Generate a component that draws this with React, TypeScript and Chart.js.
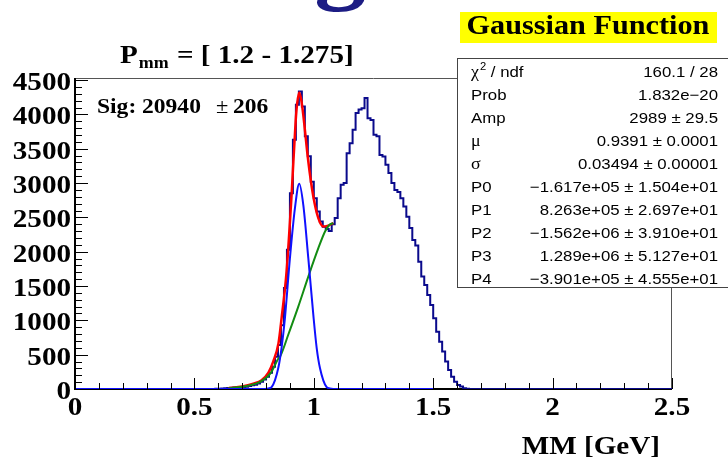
import React, { useEffect, useRef } from "react";
import { Chart, registerables } from "chart.js";

Chart.register(...registerables);

// ---------------- axis definitions ----------------
const xRange = [0, 2.5];
const yRange = [0, 4530];
const xTickValues = [0, 0.5, 1, 1.5, 2, 2.5];
const xTickLabels = ["0", "0.5", "1", "1.5", "2", "2.5"];
const yTickValues = [0, 500, 1000, 1500, 2000, 2500, 3000, 3500, 4000, 4500];
const yTickLabels = ["0", "500", "1000", "1500", "2000", "2500", "3000", "3500", "4000", "4500"];
const xMinorStep = 0.1;
const yMinorStep = 100;

// ---------------- histogram (bin width 0.0125 GeV) ----------------
const histBinWidth = 0.0125;
const histFirstBin = 0.5875;
const histCounts = [
  3, 5, 6, 10, 14, 20, 22, 25, 27, 30, 34, 42, 55, 62, 80, 105, 140, 180, 235, 325,
  470, 640, 930, 1470, 2030, 2850, 3630, 4140, 4335, 4115, 3680, 3390, 3020, 2780, 2585, 2440,
  2365, 2330, 2300, 2400, 2490, 2780, 2975, 3000, 3435, 3580, 3775, 4020, 4070, 4090, 4240,
  3945, 3920, 3705, 3680, 3410, 3385, 3265, 3145, 3000, 2900, 2870, 2780, 2660, 2510, 2345,
  2170, 2090, 1855, 1640, 1515, 1370, 1225, 1030, 835, 690, 545, 400, 275, 180, 105, 60, 35,
  12, 5,
];

// ---------------- fit curves ----------------
const fitX = [0.642, 0.7, 0.75, 0.78, 0.81, 0.83, 0.852, 0.865, 0.886, 0.907, 0.924, 0.93, 0.939, 0.948, 0.956, 0.977, 0.998, 1.019, 1.04, 1.06, 1.082];
const fitY = [12, 38, 80, 125, 240, 400, 665, 1030, 1711, 2830, 3900, 4150, 4320, 4200, 3990, 3314, 2804, 2488, 2366, 2380, 2416];

const bgX = [0.642, 0.68, 0.72, 0.777, 0.82, 0.851, 0.86, 0.893, 0.935, 0.977, 1.019, 1.047, 1.065, 1.082];
const bgY = [10, 25, 45, 107, 235, 440, 480, 790, 1200, 1637, 2051, 2294, 2390, 2416];

const gaussX = [0, 0.78, 0.81, 0.824, 0.851, 0.865, 0.879, 0.9, 0.921, 0.939, 0.956, 0.977, 0.998, 1.012, 1.026, 1.053, 1.067, 1.1, 1.5];
const gaussY = [0, 0, 8, 30, 302, 600, 1030, 1905, 2634, 2990, 2683, 1905, 1079, 600, 302, 30, 8, 0, 0];

// ---------------- texts ----------------
const titleMain = "P";
const titleSub = "mm";
const titleRest = " = [ 1.2 - 1.275]";
const xAxisTitle = "MM [GeV]";
const headerText = "Gaussian Function";
const sigLabel = "Sig: 20940";
const sigErr = "206";
const statsLabels = ["χ2 / ndf", "Prob", "Amp", "μ", "σ", "P0", "P1", "P2", "P3", "P4"];
const statsValues = [
  "160.1 / 28",
  "1.832e\u221220",
  "2989 ± 29.5",
  "0.9391 ± 0.0001",
  "0.03494 ± 0.00001",
  "\u22121.617e+05 ± 1.504e+01",
  "8.263e+05 ± 2.697e+01",
  "\u22121.562e+06 ± 3.910e+01",
  "1.289e+06 ± 5.127e+01",
  "\u22123.901e+05 ± 4.555e+01",
];

const SERIF = '"Liberation Serif", "Times New Roman", serif';
const SANS = '"Liberation Sans", Arial, sans-serif';
const SX = 1.12;

function drawText(
  ctx: CanvasRenderingContext2D,
  s: string,
  x: number,
  y: number,
  font: string,
  align: "left" | "right" | "center" = "left",
  color = "#000",
  baseline: CanvasTextBaseline = "alphabetic"
) {
  ctx.save();
  ctx.font = font;
  ctx.fillStyle = color;
  ctx.textBaseline = baseline;
  ctx.textAlign = "left";
  const w = ctx.measureText(s).width * SX;
  const x0 = align === "left" ? x : align === "right" ? x - w : x - w / 2;
  ctx.translate(x0, y);
  ctx.scale(SX, 1);
  ctx.fillText(s, 0, 0);
  ctx.restore();
  return w;
}

const framePlugin = {
  id: "rootFrame",
  beforeDatasetsDraw(chart: any) {
    const { ctx, chartArea: a } = chart;
    ctx.save();
    ctx.strokeStyle = "#555";
    ctx.lineWidth = 1;
    ctx.beginPath();
    ctx.moveTo(a.left, a.top + 0.5);
    ctx.lineTo(a.right, a.top + 0.5);
    ctx.moveTo(a.right - 0.5, a.top);
    ctx.lineTo(a.right - 0.5, a.bottom);
    ctx.stroke();
    ctx.strokeStyle = "#000";
    ctx.lineWidth = 2;
    ctx.beginPath();
    ctx.moveTo(a.left, a.top);
    ctx.lineTo(a.left, a.bottom);
    ctx.lineTo(a.right, a.bottom);
    ctx.stroke();
    ctx.restore();
  },
  afterDatasetsDraw(chart: any) {
    const { ctx, chartArea: a, scales } = chart;
    const xs = scales.x;
    const ys = scales.y;
    ctx.save();
    ctx.strokeStyle = "#000";
    ctx.lineWidth = 1;
    ctx.beginPath();
    // y ticks (inward)
    for (let v = yRange[0]; v <= yRange[1] + 1e-6; v += yMinorStep) {
      const major = yTickValues.some((t) => Math.abs(t - v) < 1e-6);
      const py = Math.round(ys.getPixelForValue(v)) + 0.5;
      ctx.moveTo(a.left, py);
      ctx.lineTo(a.left + (major ? 13 : 7), py);
    }
    // x ticks (inward)
    for (let i = 0; i * xMinorStep <= xRange[1] + 1e-6; i++) {
      const v = i * xMinorStep;
      const major = xTickValues.some((t) => Math.abs(t - v) < 1e-6);
      const px = Math.round(xs.getPixelForValue(v)) + 0.5;
      ctx.moveTo(px, a.bottom);
      ctx.lineTo(px, a.bottom - (major ? 11 : 6));
    }
    ctx.stroke();
    ctx.restore();
  },
  afterDraw(chart: any) {
    const { ctx, chartArea: a, scales } = chart;
    const xs = scales.x;
    const ys = scales.y;
    const tickFont = `bold 26px ${SERIF}`;
    yTickValues.forEach((v, i) => {
      drawText(ctx, yTickLabels[i], a.left - 4, ys.getPixelForValue(v) + 10, tickFont, "right");
    });
    xTickValues.forEach((v, i) => {
      drawText(ctx, xTickLabels[i], xs.getPixelForValue(v), a.bottom + 26, tickFont, "center");
    });
    drawText(ctx, xAxisTitle, 660, 454, `bold 26px ${SERIF}`, "right");

    // big partial "g" from the slide title above
    drawText(ctx, "g", 340, -7, `bold 92px ${SERIF}`, "center", "#1c1c84");

    // title
    let tx = 120;
    tx += drawText(ctx, titleMain, tx, 63, `bold 26px ${SERIF}`);
    tx += drawText(ctx, titleSub, tx + 1, 68, `bold 16px ${SERIF}`) + 2;
    drawText(ctx, titleRest, tx, 63, `bold 26px ${SERIF}`);

    // Sig annotation
    drawText(ctx, sigLabel, 97, 113, `bold 21px ${SERIF}`);
    drawText(ctx, "±", 216, 113, `20px ${SERIF}`);
    drawText(ctx, sigErr, 233, 113, `bold 21px ${SERIF}`);

    // yellow header
    ctx.save();
    ctx.fillStyle = "#ffff00";
    ctx.fillRect(460, 12, 257, 31);
    ctx.restore();
    drawText(ctx, headerText, 588, 34, `bold 27px ${SERIF}`, "center");

    // stats box
    const bx = 457, by = 58, bw = 290, bh = 229;
    ctx.save();
    ctx.fillStyle = "#fff";
    ctx.fillRect(bx, by, bw, bh);
    ctx.strokeStyle = "#444";
    ctx.lineWidth = 1;
    ctx.strokeRect(bx + 0.5, by + 0.5, bw, bh);
    ctx.restore();
    const sFont = `15px ${SANS}`;
    statsLabels.forEach((lab, i) => {
      const yb = 77 + i * 23;
      if (i === 0) {
        let lx = 471;
        lx += drawText(ctx, "χ", lx, yb, `16px ${SERIF}`);
        lx += drawText(ctx, "2", lx + 1, yb - 7, `10px ${SANS}`) + 1;
        drawText(ctx, " / ndf", lx, yb, sFont);
      } else if (lab === "μ" || lab === "σ") {
        drawText(ctx, lab, 471, yb, `16px ${SERIF}`);
      } else {
        drawText(ctx, lab, 471, yb, sFont);
      }
      drawText(ctx, statsValues[i], 718, yb, sFont, "right");
    });
  },
};

export default function App() {
  const ref = useRef<HTMLCanvasElement | null>(null);
  useEffect(() => {
    document.body.style.margin = "0";
    document.body.style.overflow = "hidden";
    const canvas = ref.current!;
    const histPoints: { x: number; y: number }[] = [{ x: xRange[0], y: 0 }];
    histCounts.forEach((c, i) => histPoints.push({ x: histFirstBin + i * histBinWidth, y: c }));
    histPoints.push({ x: histFirstBin + histCounts.length * histBinWidth, y: 0 });
    histPoints.push({ x: xRange[1], y: 0 });
    const toPts = (xs: number[], ys: number[]) => xs.map((x, i) => ({ x, y: ys[i] }));

    const chart = new Chart(canvas, {
      type: "line",
      data: {
        datasets: [
          {
            data: toPts(gaussX, gaussY),
            borderColor: "#1010ff",
            borderWidth: 2,
            cubicInterpolationMode: "monotone",
            pointRadius: 0,
            fill: false,
          },
          {
            data: toPts(bgX, bgY),
            borderColor: "#128c12",
            borderWidth: 2,
            cubicInterpolationMode: "monotone",
            pointRadius: 0,
            fill: false,
          },
          {
            data: toPts(fitX, fitY),
            borderColor: "#ff0000",
            borderWidth: 2.5,
            cubicInterpolationMode: "monotone",
            pointRadius: 0,
            fill: false,
          },
          {
            data: histPoints,
            borderColor: "#0a0a8c",
            borderWidth: 2,
            stepped: "before",
            pointRadius: 0,
            fill: false,
          },
        ],
      },
      options: {
        animation: false,
        responsive: false,
        maintainAspectRatio: false,
        layout: { padding: { left: 75, right: 56, top: 78, bottom: 79 } },
        scales: {
          x: { type: "linear", min: xRange[0], max: xRange[1], display: false },
          y: { type: "linear", min: yRange[0], max: yRange[1], display: false },
        },
        plugins: { legend: { display: false }, tooltip: { enabled: false } },
      },
      plugins: [framePlugin],
    } as any);
    return () => chart.destroy();
  }, []);
  return (
    <div style={{ position: "absolute", left: 0, top: 0, width: 728, height: 468, background: "#fff" }}>
      <canvas ref={ref} width={728} height={468} style={{ display: "block", width: 728, height: 468 }} />
    </div>
  );
}
